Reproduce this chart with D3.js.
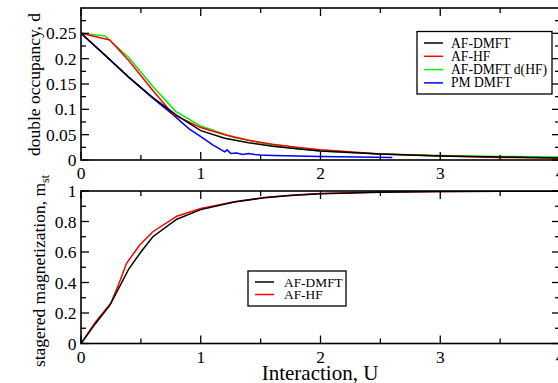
<!DOCTYPE html>
<html>
<head>
<meta charset="utf-8">
<script src="https://cdn.jsdelivr.net/npm/d3@7"></script>
<style>
	body { margin: 0; background: #fff; }
	svg text { font-family: 'Liberation Serif', 'Times New Roman', serif; }
</style>
</head>
<body>
<div id="chart"></div>
<script>
// double occupancy (top panel)
const dmftU = [0, 0.2, 0.4, 0.6, 0.8, 1.0, 1.2, 1.4, 1.6, 1.8, 2.0, 2.5, 3.0, 3.5, 4.0]
const dmftD = [0.25, 0.207, 0.163, 0.123, 0.088, 0.058, 0.043, 0.034, 0.027, 0.022, 0.018, 0.012, 0.008, 0.006, 0.004]

const hfU = [0, 0.24, 0.4, 0.6, 0.77, 1.0, 1.2, 1.4, 1.6, 1.8, 2.0, 2.5, 3.0, 3.5, 4.0]
const hfD = [0.25, 0.237, 0.196, 0.137, 0.09, 0.064, 0.05, 0.039, 0.031, 0.025, 0.02, 0.012, 0.008, 0.005, 0.004]

const dhfU = [0, 0.2, 0.4, 0.6, 0.79, 1.0, 1.27, 1.5, 1.67, 2.0, 2.5, 3.0, 3.5, 4.0]
const dhfD = [0.25, 0.245, 0.202, 0.145, 0.096, 0.067, 0.045, 0.034, 0.026, 0.018, 0.012, 0.009, 0.007, 0.006]

const pmU = [0, 0.2, 0.4, 0.6, 0.77, 0.9, 1.0, 1.1, 1.2, 1.22, 1.25, 1.3, 1.35, 1.4, 1.45, 1.5, 1.6, 1.8, 2.0, 2.3, 2.6]
const pmD = [0.25, 0.207, 0.163, 0.122, 0.089, 0.062, 0.046, 0.03, 0.016, 0.02, 0.013, 0.014, 0.011, 0.013, 0.011, 0.01, 0.009, 0.008, 0.007, 0.006, 0.005]

// staggered magnetization (bottom panel)
const magDmftU = [0, 0.12, 0.24, 0.32, 0.4, 0.5, 0.6, 0.8, 1.0, 1.28, 1.53, 1.75, 2.0, 2.5, 3.0, 3.5, 4.0]
const magDmftM = [0, 0.13, 0.25, 0.37, 0.49, 0.6, 0.7, 0.815, 0.878, 0.928, 0.956, 0.97, 0.982, 0.992, 0.996, 0.998, 0.999]

const magHfU = [0, 0.12, 0.25, 0.32, 0.38, 0.49, 0.6, 0.8, 1.0, 1.28, 1.53, 1.75, 2.0, 2.5, 3.0, 3.5, 4.0]
const magHfM = [0, 0.14, 0.265, 0.4, 0.526, 0.646, 0.733, 0.835, 0.885, 0.93, 0.957, 0.972, 0.984, 0.993, 0.997, 0.999, 1.0]

const xTicks = [0, 1, 2, 3, 4]
const topTicks = [0, 0.05, 0.1, 0.15, 0.2, 0.25]
const botTicks = [0, 0.2, 0.4, 0.6, 0.8, 1]

const topSeries = [
	{ name: 'AF-DMFT', u: dmftU, v: dmftD, color: '#000000' },
	{ name: 'AF-HF', u: hfU, v: hfD, color: '#ff0000' },
	{ name: 'AF-DMFT d(HF)', u: dhfU, v: dhfD, color: '#00ee00' },
	{ name: 'PM DMFT', u: pmU, v: pmD, color: '#0000ff' },
]
const botSeries = [
	{ name: 'AF-DMFT', u: magDmftU, v: magDmftM, color: '#000000' },
	{ name: 'AF-HF', u: magHfU, v: magHfM, color: '#ff0000' },
]

const W = 558, H = 383
const svg = d3.select('#chart').append('svg').attr('width', W).attr('height', H)

const x = d3.scaleLinear().domain([0, 4]).range([81, 560])
const yTop = d3.scaleLinear().domain([0, 0.3]).range([160, 8])
const yBot = d3.scaleLinear().domain([0, 1]).range([343.5, 191])

function drawPanel(y, yTickVals, yMinor, series) {
	const g = svg.append('g')
	const [y0, y1] = y.range()
	const x0 = x.range()[0], x1 = x.range()[1]

	// data lines, clipped to the frame
	const id = 'clip' + Math.round(y0)
	svg.append('clipPath').attr('id', id).append('rect')
		.attr('x', x0).attr('y', y1).attr('width', x1 - x0).attr('height', y0 - y1)
	const line = d3.line().x((d) => x(d[0])).y((d) => y(d[1]))
	series.slice().reverse().forEach((s) => {
		g.append('path')
			.attr('d', line(d3.zip(s.u, s.v)))
			.attr('clip-path', 'url(#' + id + ')')
			.attr('fill', 'none')
			.attr('stroke', s.color)
			.attr('stroke-width', 1.5)
	})

	// frame
	g.append('rect').attr('x', x0).attr('y', y1).attr('width', x1 - x0).attr('height', y0 - y1)
		.attr('fill', 'none').attr('stroke', '#000').attr('stroke-width', 1.6)

	// ticks point inward on all four sides
	const xMinor = d3.range(0.5, 4, 1)
	const tk = (ax, ay, bx, by) => g.append('line').attr('x1', ax).attr('y1', ay).attr('x2', bx).attr('y2', by)
		.attr('stroke', '#000').attr('stroke-width', 1.3)
	xTicks.forEach((v) => { tk(x(v), y0, x(v), y0 - 8); tk(x(v), y1, x(v), y1 + 8) })
	xMinor.forEach((v) => { tk(x(v), y0, x(v), y0 - 5); tk(x(v), y1, x(v), y1 + 5) })
	yTickVals.forEach((v) => { tk(x0, y(v), x0 + 8, y(v)); tk(x1, y(v), x1 - 8, y(v)) })
	yMinor.forEach((v) => { tk(x0, y(v), x0 + 5, y(v)); tk(x1, y(v), x1 - 5, y(v)) })

	// tick labels
	g.selectAll('.xl').data(xTicks).enter().append('text')
		.attr('x', (d) => x(d)).attr('y', y0 + 19)
		.attr('text-anchor', 'middle').attr('font-size', 17.5).text((d) => d)
	g.selectAll('.yl').data(yTickVals).enter().append('text')
		.attr('x', x0 - 4.5).attr('y', (d) => y(d) + 6)
		.attr('text-anchor', 'end').attr('font-size', 17.5).text((d) => String(d))
}

drawPanel(yTop, topTicks, [0.025, 0.075, 0.125, 0.175, 0.225, 0.275], topSeries)
drawPanel(yBot, botTicks, [0.1, 0.3, 0.5, 0.7, 0.9], botSeries)

// axis titles
svg.append('text').attr('transform', 'translate(40,84.5) rotate(-90)')
	.attr('text-anchor', 'middle').attr('font-size', 17.5).text('double occupancy, d')
const mt = svg.append('text').attr('transform', 'translate(45,271) rotate(-90)')
	.attr('text-anchor', 'middle').attr('font-size', 17.5)
mt.append('tspan').text('stagered magnetization, m')
mt.append('tspan').attr('font-size', 12).attr('dy', 4).text('st')
svg.append('text').attr('x', 320).attr('y', 380).attr('text-anchor', 'middle')
	.attr('font-size', 21).text('Interaction, U')

// legends
function legend(series, bx, by, bw, bh, y0, dy, lx1, lx2, tx, fs) {
	const g = svg.append('g')
	g.append('rect').attr('x', bx).attr('y', by).attr('width', bw).attr('height', bh)
		.attr('fill', '#fff').attr('stroke', '#000').attr('stroke-width', 1.3)
	series.forEach((s, i) => {
		const yy = y0 + i * dy
		g.append('line').attr('x1', lx1).attr('x2', lx2).attr('y1', yy).attr('y2', yy)
			.attr('stroke', s.color).attr('stroke-width', 1.5)
		g.append('text').attr('x', tx).attr('y', yy + 4.5).attr('font-size', fs).text(s.name)
	})
}
legend(topSeries, 417, 31.5, 135, 62.5, 43, 13.3, 424, 443, 451, 13.6)
legend(botSeries, 248, 271, 98, 35, 282, 12.5, 255, 274, 284, 13.4)
</script>
</body>
</html>
